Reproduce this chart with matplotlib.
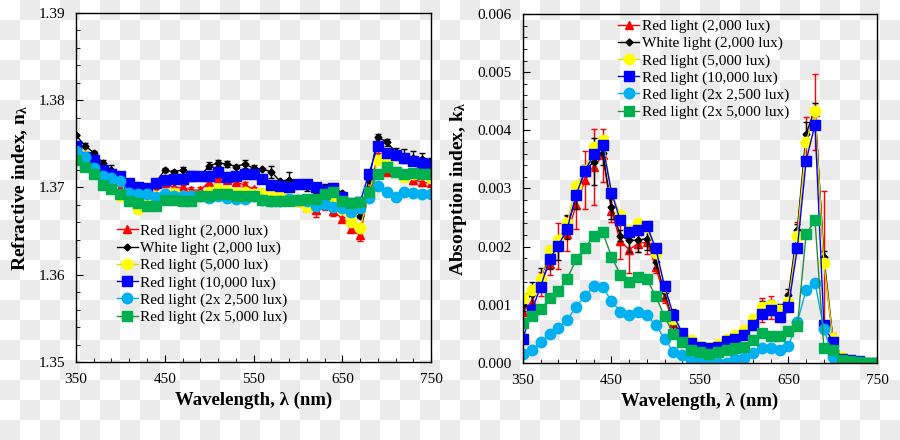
import numpy as np
import matplotlib
matplotlib.use("Agg")
import matplotlib.pyplot as plt
from matplotlib.ticker import MultipleLocator, FormatStrFormatter

plt.rcParams['font.family'] = ['Liberation Serif', 'DejaVu Serif']
plt.rcParams['mathtext.default'] = 'regular'

# wavelength grid (nm)
wl = list(range(350, 751, 10))

labels = ['Red light (2,000 lux)', 'White light (2,000 lux)', 'Red light (5,000 lux)',
          'Red light (10,000 lux)', 'Red light (2x 2,500 lux)', 'Red light (2x 5,000 lux)']

# refractive index n
n_red2000 = [1.3747, 1.3738, 1.3728, 1.3722, 1.3711, 1.3699, 1.3692, 1.3684, 1.3690, 1.3695,
             1.3705, 1.3700, 1.3700, 1.3697, 1.3697, 1.3706, 1.3711, 1.3709, 1.3706, 1.3703,
             1.3698, 1.3692, 1.3690, 1.3689, 1.3690, 1.3684, 1.3678, 1.3674, 1.3680, 1.3673,
             1.3664, 1.3652, 1.3645, 1.3697, 1.3736, 1.3718, 1.3718, 1.3713, 1.3709, 1.3706,
             1.3705]
n_white2000 = [1.3760, 1.3748, 1.3740, 1.3728, 1.3720, 1.3711, 1.3706, 1.3701, 1.3700, 1.3706,
               1.3720, 1.3718, 1.3720, 1.3713, 1.3713, 1.3725, 1.3728, 1.3727, 1.3724, 1.3727,
               1.3722, 1.3721, 1.3718, 1.3707, 1.3709, 1.3704, 1.3700, 1.3695, 1.3697, 1.3700,
               1.3694, 1.3682, 1.3667, 1.3709, 1.3758, 1.3752, 1.3741, 1.3736, 1.3734, 1.3733,
               1.3728]
n_red5000 = [1.3745, 1.3736, 1.3724, 1.3716, 1.3709, 1.3690, 1.3684, 1.3675, 1.3687, 1.3690,
             1.3690, 1.3694, 1.3690, 1.3690, 1.3690, 1.3695, 1.3698, 1.3696, 1.3694, 1.3695,
             1.3692, 1.3694, 1.3693, 1.3690, 1.3688, 1.3684, 1.3678, 1.3681, 1.3684, 1.3687,
             1.3675, 1.3660, 1.3653, 1.3694, 1.3731, 1.3728, 1.3718, 1.3712, 1.3716, 1.3715,
             1.3711]
n_red10000 = [1.3748, 1.3735, 1.3731, 1.3720, 1.3715, 1.3713, 1.3705, 1.3701, 1.3699, 1.3705,
              1.3709, 1.3710, 1.3710, 1.3713, 1.3713, 1.3713, 1.3718, 1.3712, 1.3713, 1.3715,
              1.3715, 1.3710, 1.3703, 1.3702, 1.3701, 1.3704, 1.3704, 1.3700, 1.3697, 1.3699,
              1.3689, 1.3682, 1.3683, 1.3716, 1.3748, 1.3740, 1.3737, 1.3734, 1.3730, 1.3728,
              1.3727]
n_red2x2500 = [1.3742, 1.3735, 1.3722, 1.3713, 1.3711, 1.3707, 1.3694, 1.3693, 1.3692, 1.3689,
               1.3692, 1.3690, 1.3690, 1.3690, 1.3690, 1.3688, 1.3690, 1.3688, 1.3687, 1.3687,
               1.3690, 1.3686, 1.3685, 1.3684, 1.3687, 1.3686, 1.3684, 1.3679, 1.3681, 1.3678,
               1.3676, 1.3672, 1.3676, 1.3688, 1.3702, 1.3695, 1.3689, 1.3695, 1.3694, 1.3693,
               1.3692]
n_red2x5000 = [1.3732, 1.3723, 1.3715, 1.3703, 1.3698, 1.3693, 1.3685, 1.3682, 1.3679, 1.3679,
               1.3686, 1.3686, 1.3684, 1.3684, 1.3690, 1.3690, 1.3692, 1.3692, 1.3690, 1.3690,
               1.3690, 1.3686, 1.3685, 1.3684, 1.3684, 1.3686, 1.3687, 1.3687, 1.3693, 1.3695,
               1.3685, 1.3682, 1.3683, 1.3695, 1.3716, 1.3723, 1.3718, 1.3716, 1.3717, 1.3715,
               1.3715]
n_err_red2000 = [0.0001, 0.0003, 0.0002, 0.0002, 0.0004, 0.0003, 0.0003, 0.0002, 0.0003, 0.0003,
                 0.0004, 0.0005, 0.0003, 0.0003, 0.0003, 0.0008, 0.0002, 0.0003, 0.0003, 0.0003,
                 0.0002, 0.0004, 0.0004, 0.0003, 0.0004, 0.0005, 0.0003, 0.0008, 0.0006, 0.0006,
                 0.0002, 0.0003, 0.0006, 0.0005, 0.0004, 0.0003, 0.0003, 0.0004, 0.0005, 0.0004,
                 0.0002]
n_err_white2000 = [0.0001, 0.0003, 0.0002, 0.0003, 0.0006, 0.0004, 0.0004, 0.0004, 0.0003, 0.0002,
                   0.0002, 0.0002, 0.0004, 0.0006, 0.0003, 0.0004, 0.0003, 0.0003, 0.0002, 0.0005,
                   0.0004, 0.0001, 0.0007, 0.0002, 0.0009, 0.0005, 0.0004, 0.0005, 0.0007, 0.0004,
                   0.0001, 0.0002, 0.0002, 0.0003, 0.0003, 0.0004, 0.0004, 0.0008, 0.0008, 0.0007,
                   0.0006]

# absorption index k
k_red2000 = [0.00088, 0.00105, 0.00136, 0.00171, 0.00201, 0.00222, 0.00271, 0.00314, 0.00337, 0.00357,
             0.00262, 0.00209, 0.00195, 0.00205, 0.00208, 0.00165, 0.00113, 0.00068, 0.00042, 0.00033,
             0.00028, 0.00026, 0.00029, 0.00039, 0.00045, 0.00053, 0.00073, 0.00091, 0.00096, 0.00088,
             0.00111, 0.00222, 0.00383, 0.00432, 0.00175, 0.00042, 0.00007, 0.00003, 0.00001, 0.0,
             0.0]
k_white2000 = [0.00100, 0.00119, 0.00149, 0.00182, 0.00197, 0.00234, 0.00285, 0.00331, 0.00346, 0.00361,
               0.00268, 0.00219, 0.00211, 0.00211, 0.00214, 0.00174, 0.00122, 0.00073, 0.00045, 0.00036,
               0.00029, 0.00028, 0.00030, 0.00040, 0.00045, 0.00053, 0.00073, 0.00096, 0.00099, 0.00091,
               0.00117, 0.00229, 0.00394, 0.00437, 0.00182, 0.00045, 0.00010, 0.00003, 0.00002, 0.0,
               0.0]
k_red5000 = [0.00111, 0.00125, 0.00145, 0.00194, 0.00212, 0.00241, 0.00304, 0.00332, 0.00372, 0.00384,
             0.00294, 0.00254, 0.00228, 0.00241, 0.00234, 0.00189, 0.00131, 0.00076, 0.00050, 0.00039,
             0.00029, 0.00028, 0.00033, 0.00042, 0.00048, 0.00056, 0.00076, 0.00096, 0.00099, 0.00091,
             0.00105, 0.00219, 0.00380, 0.00433, 0.00172, 0.00043, 0.00011, 0.00005, 0.00002, 0.0,
             0.0]
k_red10000 = [0.00042, 0.00091, 0.00131, 0.00179, 0.00202, 0.00231, 0.00289, 0.00330, 0.00359, 0.00375,
              0.00293, 0.00245, 0.00226, 0.00228, 0.00236, 0.00197, 0.00132, 0.00082, 0.00052, 0.00035,
              0.00028, 0.00026, 0.00028, 0.00038, 0.00041, 0.00048, 0.00066, 0.00085, 0.00091, 0.00079,
              0.00097, 0.00197, 0.00348, 0.00410, 0.00066, 0.00036, 0.00007, 0.00005, 0.00003, 0.0,
              0.0]
k_red2x2500 = [0.00016, 0.00022, 0.00036, 0.00050, 0.00060, 0.00074, 0.00097, 0.00115, 0.00132, 0.00130,
               0.00107, 0.00088, 0.00082, 0.00088, 0.00082, 0.00065, 0.00042, 0.00019, 0.00013, 0.00006,
               0.00002, 0.0, 0.0, 0.0, 0.00007, 0.00009, 0.00017, 0.00025, 0.00026, 0.00023,
               0.00030, 0.00070, 0.00126, 0.00138, 0.00059, 0.00011, 0.00003, 0.00002, 0.0, 0.0,
               0.0]
k_red2x5000 = [0.00068, 0.00080, 0.00092, 0.00111, 0.00124, 0.00145, 0.00178, 0.00198, 0.00218, 0.00225,
               0.00183, 0.00152, 0.00140, 0.00147, 0.00144, 0.00115, 0.00080, 0.00050, 0.00036, 0.00023,
               0.00019, 0.00016, 0.00019, 0.00023, 0.00025, 0.00028, 0.00040, 0.00052, 0.00046, 0.00046,
               0.00055, 0.00063, 0.00222, 0.00245, 0.00026, 0.00023, 0.00006, 0.00003, 0.00001, 0.0,
               0.0]
k_err_red2000 = [0.0001, 0.0002, 0.0002, 0.0002, 0.0004, 0.0003, 0.0004, 0.0005, 0.00065, 0.00045,
                 0.0002, 0.0003, 0.0004, 0.00015, 0.0002, 0.0001, 0.0001, 0.0001, 0.0001, 0.00005,
                 0.00005, 0.00005, 0.00005, 0.00005, 0.0001, 0.0001, 0.0001, 0.0002, 0.0002, 0.0001,
                 0.0001, 0.0002, 0.0004, 0.00065, 0.0012, 0.0001, 0.00003, 0.00002, 0.0, 0.0,
                 0.0]
k_err_white2000 = [0.0001, 0.0002, 0.00015, 0.0002, 0.0002, 0.0002, 0.0002, 0.0001, 0.0004, 0.0002,
                   0.0002, 0.0001, 0.0002, 0.0002, 0.0002, 0.0001, 0.0001, 0.0002, 0.0001, 0.00005,
                   0.00005, 0.00005, 0.00005, 0.00005, 0.00005, 0.00005, 0.0001, 0.0001, 0.0001, 0.0001,
                   0.0001, 0.0001, 0.0002, 0.0001, 0.0001, 0.00005, 0.00002, 0.00002, 0.0, 0.0,
                   0.0]

colors = ['#ff0000', '#000000', '#ffff00', '#0000ff', '#00b0f0', '#00b050']
line_colors = ['#ff0000', '#000000', '#e6d800', '#0000ff', '#00b0f0', '#2a8a3c']
markers = ['^', 'D', 'o', 's', 'o', 's']
msizes = [6, 3.5, 7.5, 7, 7.5, 7]

fig = plt.figure(figsize=(9, 4.4), dpi=100)

# checkerboard backdrop like the reference image
bg = fig.add_axes([0, 0, 1, 1], zorder=-10)
cb = (np.add.outer(np.arange(22), np.arange(45)) % 2).astype(float)
bg.imshow(cb, cmap=matplotlib.colors.ListedColormap(['#ffffff', '#ebebeb']),
          aspect='auto', interpolation='nearest', extent=[0, 900, 440, 0])
bg.axis('off')

ax1 = fig.add_axes([0.0844, 0.1773, 0.3946, 0.7932])
ax2 = fig.add_axes([0.5811, 0.175, 0.3933, 0.7932])

def draw(ax, series, errs):
    for i, ys in enumerate(series):
        if i in errs:
            ax.errorbar(wl, ys, yerr=errs[i], fmt='none', ecolor=colors[i],
                        elinewidth=1, capsize=2, capthick=1)
        ax.plot(wl, ys, color=line_colors[i], lw=1, marker=markers[i], ms=msizes[i],
                mfc=colors[i], mec=colors[i], label=labels[i])

draw(ax1, [n_red2000, n_white2000, n_red5000, n_red10000, n_red2x2500, n_red2x5000],
     {0: n_err_red2000, 1: n_err_white2000})
draw(ax2, [k_red2000, k_white2000, k_red5000, k_red10000, k_red2x2500, k_red2x5000],
     {0: k_err_red2000, 1: k_err_white2000})

for ax in (ax1, ax2):
    ax.set_facecolor('none')
    ax.set_xlim(350, 750)
    ax.set_xticks(range(350, 751, 100))
    ax.set_xticks(range(350, 751, 20), minor=True)
    ax.tick_params(which='both', direction='in', top=False, right=False, labelsize=11, pad=8)
    ax.tick_params(which='major', length=5)
    ax.tick_params(which='minor', length=3)
    ax.set_xlabel('Wavelength, λ (nm)', fontsize=13.5, fontweight='bold', labelpad=4)
    for sp in ax.spines.values():
        sp.set_linewidth(1)

ax1.set_ylim(1.35, 1.39)
ax1.yaxis.set_major_locator(MultipleLocator(0.01))
ax1.yaxis.set_minor_locator(MultipleLocator(0.002))
ax1.yaxis.set_major_formatter(FormatStrFormatter('%.2f'))
ax1.set_ylabel('Refractive index, n$_λ$', fontsize=14, fontweight='bold', labelpad=6)

ax2.set_ylim(0, 0.006)
ax2.yaxis.set_major_locator(MultipleLocator(0.001))
ax2.yaxis.set_minor_locator(MultipleLocator(0.0002))
ax2.yaxis.set_major_formatter(FormatStrFormatter('%.3f'))
ax2.set_ylabel('Absorption index, k$_λ$', fontsize=14, fontweight='bold', labelpad=6)

leg_kw = dict(frameon=False, fontsize=11, handlelength=1.4, handletextpad=0.15,
              labelspacing=0.22, borderpad=0, borderaxespad=0)
ax1.legend(loc='upper left', bbox_to_anchor=(0.115, 0.395), **leg_kw)
ax2.legend(loc='upper left', bbox_to_anchor=(0.268, 0.985), **leg_kw)

fig.savefig('out.png', dpi=100)
